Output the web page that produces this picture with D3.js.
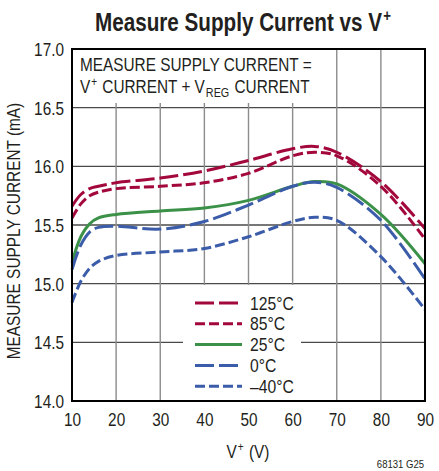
<!DOCTYPE html>
<html><head><meta charset="utf-8">
<script src="https://cdn.jsdelivr.net/npm/d3@7"></script>
<style>
body{margin:0;background:#fff;}
text{font-family:"Liberation Sans",Arial,sans-serif;fill:#231f20;}
</style></head>
<body>
<svg id="c" width="439" height="471"></svg>
<script>
const voltages = [10, 12, 14, 16, 20, 30, 40, 50, 60, 65, 70, 80, 90];
const s125 = [15.66, 15.76, 15.81, 15.83, 15.86, 15.90, 15.96, 16.05, 16.15, 16.17, 16.12, 15.87, 15.47];
const s85  = [15.56, 15.68, 15.75, 15.78, 15.81, 15.83, 15.86, 15.94, 16.09, 16.12, 16.09, 15.83, 15.38];
const s25  = [15.18, 15.40, 15.51, 15.56, 15.59, 15.62, 15.645, 15.71, 15.83, 15.87, 15.85, 15.59, 15.17];
const s0   = [15.12, 15.33, 15.44, 15.48, 15.49, 15.465, 15.53, 15.67, 15.83, 15.865, 15.82, 15.54, 15.04];
const sm40 = [14.84, 15.02, 15.13, 15.19, 15.24, 15.27, 15.30, 15.40, 15.53, 15.565, 15.54, 15.23, 14.78];
const seriesNames = ["125°C", "85°C", "25°C", "0°C", "–40°C"];
const xTicks = [10, 20, 30, 40, 50, 60, 70, 80, 90];
const yTicks = [14.0, 14.5, 15.0, 15.5, 16.0, 16.5, 17.0];

const red = "#a3083c", green = "#3c9149", blue = "#3b5ca9";
const series = [
  {name: seriesNames[0], vals: s125, color: red, dash: "19,5"},
  {name: seriesNames[1], vals: s85, color: red, dash: "10,4"},
  {name: seriesNames[2], vals: s25, color: green, dash: null},
  {name: seriesNames[3], vals: s0, color: blue, dash: "19,5"},
  {name: seriesNames[4], vals: sm40, color: blue, dash: "10,4"}
];

const SQ = 0.83; // horizontal condensation factor (condensed-font look)
function squeeze(sel, factor) {
  const f = factor || SQ;
  sel.each(function() {
    const s = d3.select(this);
    const x0 = +(s.attr("x") || 0), y0 = +(s.attr("y") || 0);
    const pre = s.attr("transform") || "";
    s.attr("x", 0).attr("y", 0).attr("transform", `${pre} translate(${x0},${y0}) scale(${f},1)`);
  });
  return sel;
}
// place a run of text pieces left to right
function runText(parent, x0, yBase, pieces, factor) {
  const f = factor || SQ;
  let cx = x0;
  pieces.forEach((p, i) => {
    const t = parent.append("text").attr("x", cx).attr("y", yBase + (p.dy || 0))
      .attr("font-size", p.size).attr("font-weight", p.bold ? "bold" : null)
      .style("white-space", "pre").text(p.t);
    const w = t.node().getComputedTextLength() * f;
    squeeze(t, f);
    cx += w + 1;
  });
  return cx - 1 - x0;
}

const svg = d3.select("#c");
const L = 72, R = 425, T = 49, B = 401;
const x = d3.scaleLinear().domain([10, 90]).range([L, R]);
const y = d3.scaleLinear().domain([14, 17]).range([B, T]);

// grid
const g = svg.append("g");
g.selectAll(".hg").data(yTicks.filter(v => v > 14 && v < 17)).enter().append("line")
  .attr("x1", L).attr("x2", R).attr("y1", d => y(d)).attr("y2", d => y(d))
  .attr("stroke", "#4a4a4a").attr("stroke-width", 1.4);
g.selectAll(".vg").data(xTicks.filter(v => v > 10 && v < 90)).enter().append("line")
  .attr("y1", T).attr("y2", B).attr("x1", d => x(d)).attr("x2", d => x(d))
  .attr("stroke", "#8c8c8c").attr("stroke-width", 1.4);

// annotation box (covers grid)
svg.append("rect").attr("x", L).attr("y", T).attr("width", 246).attr("height", 54).attr("fill", "#fff");

// curves
const line = d3.line().x((d, i) => x(voltages[i])).y(d => y(d)).curve(d3.curveCatmullRom.alpha(0.5));
series.forEach(s => {
  svg.append("path").attr("d", line(s.vals)).attr("fill", "none")
    .attr("stroke", s.color).attr("stroke-width", 3)
    .attr("stroke-dasharray", s.dash);
});

// legend box
const lx = 183, ly = 285;
svg.append("rect").attr("x", lx).attr("y", ly).attr("width", 118).attr("height", B - ly).attr("fill", "#fff");
series.forEach((s, i) => {
  const yy = 303 + i * 20.8;
  svg.append("line").attr("x1", 195).attr("x2", 242).attr("y1", yy).attr("y2", yy)
    .attr("stroke", s.color).attr("stroke-width", 3).attr("stroke-dasharray", s.dash);
  squeeze(svg.append("text").attr("x", 250).attr("y", yy + 6.5).attr("font-size", 18.5).text(s.name), 0.85);
});

// frame
svg.append("rect").attr("x", L).attr("y", T).attr("width", R - L).attr("height", B - T)
  .attr("fill", "none").attr("stroke", "#000").attr("stroke-width", 2);

// axes labels
const xa = d3.axisBottom(x).tickValues(xTicks).tickSize(0).tickFormat(d3.format("d"));
const gx = svg.append("g").attr("transform", `translate(0,${B})`).call(xa);
gx.select(".domain").remove();
gx.attr("font-family", null).attr("font-size", null);
gx.selectAll("text").attr("font-size", 18.5).attr("dy", 0).attr("y", 25).attr("x", 0);

const ya = d3.axisLeft(y).tickValues(yTicks).tickSize(0).tickFormat(d3.format(".1f"));
const gy = svg.append("g").attr("transform", `translate(${L},0)`).call(ya);
gy.select(".domain").remove();
gy.attr("font-family", null).attr("font-size", null);
gy.selectAll("text").attr("font-size", 18.5).attr("x", -8).attr("y", 0).attr("dy", "0.35em");
svg.selectAll(".tick text").attr("fill", "#231f20");
squeeze(svg.selectAll(".tick text"));

// annotation text
squeeze(svg.append("text").attr("x", 80).attr("y", 71).attr("font-size", 18.5).text("MEASURE SUPPLY CURRENT ="));
runText(svg, 80, 93, [
  {t: "V", size: 18.5},
  {t: "+", size: 12, dy: -7},
  {t: "CURRENT + V", size: 18.5},
  {t: "REG", size: 13, dy: 4},
  {t: "CURRENT", size: 18.5}
].map((p, i) => (i === 2 || i === 4) ? Object.assign(p, {t: " " + p.t}) : p));

// title (measure then center)
const tg = svg.append("g");
const tw = runText(tg, 0, 31, [
  {t: "Measure Supply Current vs V", size: 26.5, bold: true},
  {t: "+", size: 17, dy: -10, bold: true}
], 0.78);
tg.attr("transform", `translate(${243 - tw / 2},0)`);

// x label
const xg = svg.append("g");
const xw = runText(xg, 0, 458, [
  {t: "V", size: 18.5},
  {t: "+", size: 12, dy: -7},
  {t: " (V)", size: 18.5}
]);
xg.attr("transform", `translate(${248 - xw / 2},0)`);

// y label
squeeze(svg.append("text").attr("transform", "translate(20,231) rotate(-90)").attr("text-anchor", "middle")
  .attr("font-size", 17.5).text("MEASURE SUPPLY CURRENT (mA)"), 0.88);

// figure id
squeeze(svg.append("text").attr("x", 424).attr("y", 468).attr("text-anchor", "end").attr("font-size", 11.5).text("68131 G25"));
</script>
</body></html>
